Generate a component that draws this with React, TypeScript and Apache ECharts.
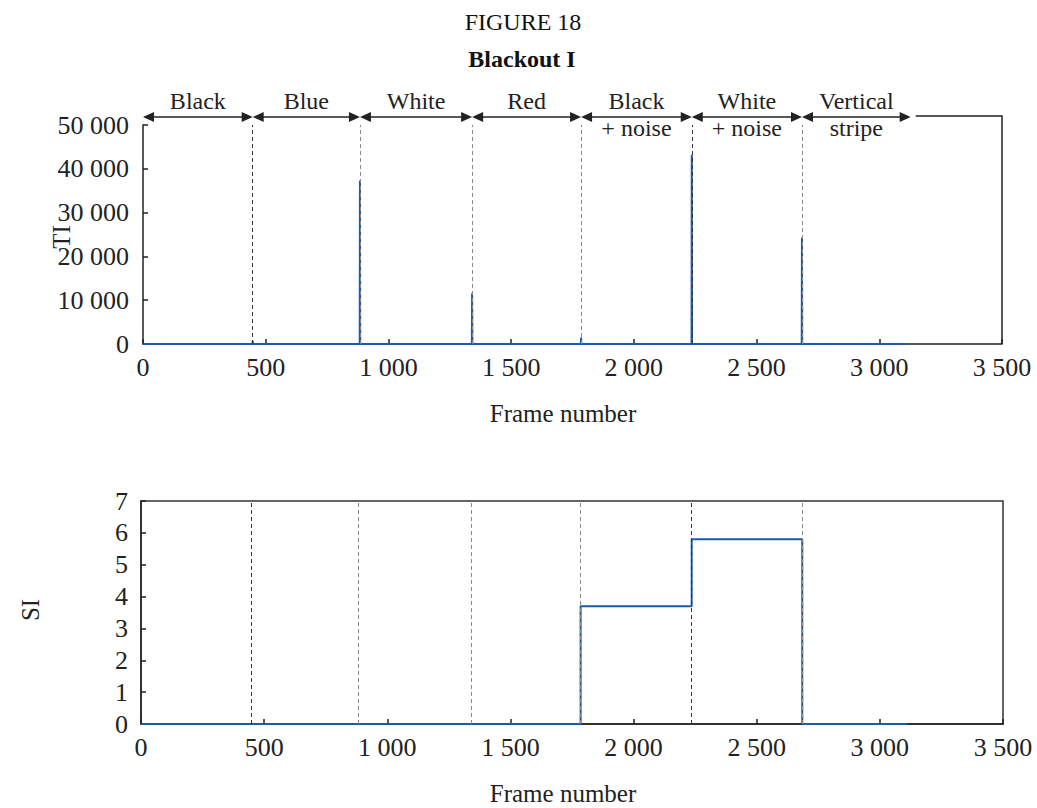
import React, { useEffect, useRef } from "react";
import * as echarts from "echarts";

// ---- Data ----
const segmentBounds = [0, 447, 884, 1341, 1785, 2236, 2685, 3128];
const segmentLabels = ["Black", "Blue", "White", "Red", "Black\n+ noise", "White\n+ noise", "Vertical\nstripe"];
const sceneCuts = [447, 884, 1341, 1785, 2236, 2685];
const cutColors = ["#333333", "#8a8a8a", "#8a8a8a", "#8a8a8a", "#333333", "#8a8a8a"];

const tiFrames = [0, 446, 447, 448, 883, 884, 885, 1340, 1341, 1342, 1784, 1785, 1786, 2235, 2236, 2237, 2684, 2685, 2686, 3110];
const tiValues = [0, 0, 700, 0, 0, 37300, 0, 0, 11600, 0, 0, 1500, 0, 0, 43200, 0, 0, 24300, 0, 0];

const siFrames = [0, 1785, 2236, 2685, 3110];
const siValues = [0, 3.7, 5.8, 0, 0];

const FONT = "'Liberation Serif', 'Times New Roman', serif";
const INK = "#222222";
const BLUE = "#1d5ba6";

const fmt = (v: number) => String(v).replace(/\B(?=(\d{3})+(?!\d))/g, " ");

export default function App() {
  const ref = useRef<HTMLDivElement>(null);

  useEffect(() => {
    if (!ref.current) return;
    const chart = echarts.init(ref.current, undefined, { renderer: "svg" });

    const axisLabel = { color: INK, fontFamily: FONT, fontSize: 26, formatter: (v: number) => fmt(v) };
    const axisLine = { show: true, lineStyle: { color: INK, width: 1.5 } };
    const axisTick = { show: true, inside: true, length: 5, lineStyle: { color: INK, width: 1.5 } };

    const cutLines = {
      silent: true,
      symbol: "none",
      label: { show: false },
      lineStyle: { type: [4, 3], width: 1 },
      data: sceneCuts.map((x, i) => ({ xAxis: x, lineStyle: { color: cutColors[i], type: [4, 3], width: 1 } })),
    };

    chart.setOption({
      animation: false,
      grid: [
        { left: 143, top: 125, width: 859, height: 219, show: false },
        { left: 141, top: 501, width: 862, height: 223, show: true, borderColor: "#333", borderWidth: 1.5, backgroundColor: "transparent" },
      ],
      xAxis: [
        {
          gridIndex: 0, type: "value", min: 0, max: 3500, interval: 500,
          axisLine, axisTick, splitLine: { show: false },
          axisLabel: { ...axisLabel, margin: 10 },
        },
        {
          gridIndex: 1, type: "value", min: 0, max: 3500, interval: 500,
          axisLine, axisTick, splitLine: { show: false },
          axisLabel: { ...axisLabel, margin: 10 },
        },
      ],
      yAxis: [
        {
          gridIndex: 0, type: "value", min: 0, max: 50000, interval: 10000,
          axisLine, axisTick, splitLine: { show: false },
          axisLabel: { ...axisLabel, margin: 14 },
        },
        {
          gridIndex: 1, type: "value", min: 0, max: 7, interval: 1,
          axisLine, axisTick, splitLine: { show: false },
          axisLabel: { ...axisLabel, margin: 13 },
        },
      ],
      series: [
        {
          name: "TI", type: "line", xAxisIndex: 0, yAxisIndex: 0,
          data: tiFrames.map((f, i) => [f, tiValues[i]]),
          showSymbol: false, symbol: "none",
          lineStyle: { color: BLUE, width: 2 },
          markLine: cutLines, z: 3,
        },
        {
          name: "SI", type: "line", xAxisIndex: 1, yAxisIndex: 1, step: "end",
          data: siFrames.map((f, i) => [f, siValues[i]]),
          showSymbol: false, symbol: "none",
          lineStyle: { color: BLUE, width: 2 },
          markLine: cutLines, z: 3,
        },
      ],
    });

    // annotations computed through the axis scale
    const px = (v: number) => chart.convertToPixel({ xAxisIndex: 0 }, v) as number;
    const py = (v: number) => chart.convertToPixel({ yAxisIndex: 0 }, v) as number;
    const ay = 117;
    const head = 11;
    const hw = 5;
    const g: any[] = [];
    for (let i = 0; i < segmentLabels.length; i++) {
      const x0 = px(segmentBounds[i]);
      const x1 = px(segmentBounds[i + 1]);
      g.push({ type: "line", shape: { x1: x0 + head - 1, y1: ay, x2: x1 - head + 1, y2: ay }, style: { stroke: INK, lineWidth: 1.5 }, silent: true });
      g.push({ type: "polygon", shape: { points: [[x0, ay], [x0 + head, ay - hw], [x0 + head, ay + hw]] }, style: { fill: INK }, silent: true });
      g.push({ type: "polygon", shape: { points: [[x1, ay], [x1 - head, ay - hw], [x1 - head, ay + hw]] }, style: { fill: INK }, silent: true });
      const lines = segmentLabels[i].split("\n");
      lines.forEach((t, k) => {
        g.push({
          type: "text", x: (x0 + x1) / 2, y: 101 + 27 * k, silent: true,
          style: { text: t, fill: INK, font: `24px ${FONT}`, align: "center", verticalAlign: "middle" },
        });
      });
    }
    const lastTip = px(segmentBounds[segmentBounds.length - 1]);
    const xr = px(3500);
    g.push({
      type: "polyline", silent: true,
      shape: { points: [[lastTip + 5, ay - 1], [xr, ay - 1], [xr, py(0)]] },
      style: { stroke: INK, lineWidth: 1.5, fill: null },
    });
    // titles and axis names
    g.push({ type: "text", x: 523, y: 22, silent: true, style: { text: "FIGURE 18", fill: "#111", font: `24px ${FONT}`, align: "center", verticalAlign: "middle" } });
    g.push({ type: "text", x: 522, y: 59, silent: true, style: { text: "Blackout I", fill: "#111", font: `bold 24px ${FONT}`, align: "center", verticalAlign: "middle" } });
    g.push({ type: "text", x: 563, y: 413, silent: true, style: { text: "Frame number", fill: INK, font: `25px ${FONT}`, align: "center", verticalAlign: "middle" } });
    g.push({ type: "text", x: 563, y: 793, silent: true, style: { text: "Frame number", fill: INK, font: `25px ${FONT}`, align: "center", verticalAlign: "middle" } });
    g.push({ type: "text", x: 61, y: 237, rotation: Math.PI / 2, silent: true, style: { text: "TI", fill: INK, font: `25px ${FONT}`, align: "center", verticalAlign: "middle" } });
    g.push({ type: "text", x: 30, y: 610, rotation: Math.PI / 2, silent: true, style: { text: "SI", fill: INK, font: `25px ${FONT}`, align: "center", verticalAlign: "middle" } });

    chart.setOption({ graphic: g });

    return () => chart.dispose();
  }, []);

  return (
    <div
      ref={ref}
      style={{ position: "absolute", left: 0, top: 0, width: 1037, height: 808, background: "#fff" }}
    />
  );
}
